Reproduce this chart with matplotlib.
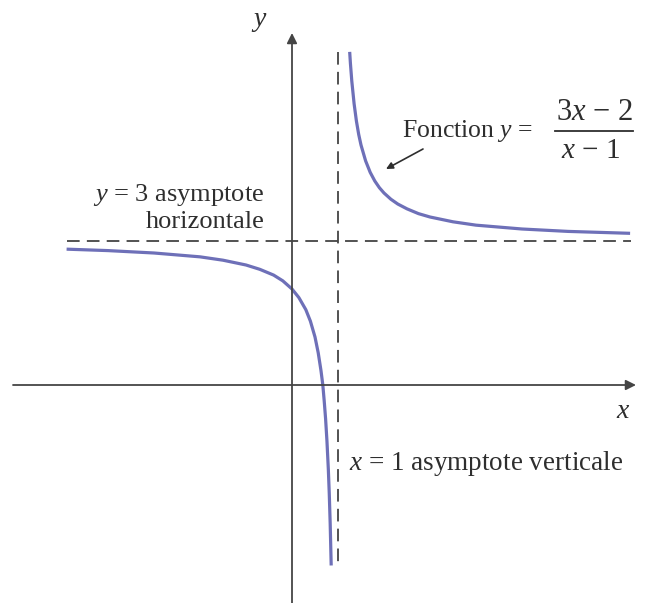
import matplotlib.pyplot as plt
from matplotlib.lines import Line2D

left_x = [-4.9, -4.0, -3.0, -2.0, -1.5, -1.0, -0.7, -0.4, -0.2, 0.0, 0.15,
          0.3, 0.4, 0.5, 0.57, 0.63, 0.67, 0.7, 0.73, 0.76, 0.79, 0.81,
          0.83, 0.852]
left_y = [2.83, 2.80, 2.75, 2.67, 2.60, 2.50, 2.41, 2.29, 2.17, 2.00, 1.82,
          1.57, 1.33, 1.00, 0.67, 0.30, 0.00, -0.33, -0.70, -1.17, -1.76,
          -2.26, -2.88, -3.76]
right_x = [1.254, 1.27, 1.3, 1.35, 1.4, 1.45, 1.5, 1.6, 1.7, 1.8, 1.9, 2.0,
           2.15, 2.3, 2.5, 2.75, 3.0, 3.5, 4.0, 4.5, 5.0, 6.0, 7.35]
right_y = [6.94, 6.70, 6.33, 5.86, 5.50, 5.22, 5.00, 4.67, 4.43, 4.25, 4.11,
           4.00, 3.87, 3.77, 3.67, 3.57, 3.50, 3.40, 3.33, 3.29, 3.25, 3.20,
           3.16]

h_asym = 3
v_asym = 1

# pixel -> data helpers (origin at pixel 292,385)
def px(v):
    return (v - 292) / 46.0

def py(v):
    return (385 - v) / 48.0

plt.rcParams['font.family'] = ['Liberation Serif']
plt.rcParams['mathtext.fontset'] = 'custom'
plt.rcParams['mathtext.rm'] = 'Liberation Serif'
plt.rcParams['mathtext.it'] = 'Liberation Serif:italic'

fig = plt.figure(figsize=(6.47, 6.03), dpi=100)
ax = fig.add_axes([0, 0, 1, 1])
ax.set_xlim(px(0), px(647))
ax.set_ylim(py(603), py(0))
ax.axis('off')

axis_col = '#454545'
curve_col = '#6e70b8'
txt_col = '#2e2e2e'

# axes with arrowheads
ax.annotate('', xy=(px(636), 0), xytext=(px(13), 0),
            arrowprops=dict(arrowstyle='-|>', color=axis_col, lw=1.3,
                            mutation_scale=15, shrinkA=0, shrinkB=0))
ax.annotate('', xy=(0, py(33)), xytext=(0, py(603)),
            arrowprops=dict(arrowstyle='-|>', color=axis_col, lw=1.3,
                            mutation_scale=15, shrinkA=0, shrinkB=0))

# asymptotes
ax.plot([px(67), px(631)], [h_asym, h_asym], color='#444444', lw=1.3,
        dashes=(7, 4))
ax.plot([v_asym, v_asym], [py(52), py(566)], color='#444444', lw=1.3,
        dashes=(7, 4))

# curve
ax.plot(left_x, left_y, color=curve_col, lw=2.3, solid_capstyle='butt')
ax.plot(right_x, right_y, color=curve_col, lw=2.3, solid_capstyle='butt')

# axis labels
ax.text(px(259), py(22), '$y$', fontsize=20, color=txt_col,
        ha='center', va='center')
ax.text(px(623), py(411), '$x$', fontsize=20, color=txt_col,
        ha='center', va='center')

# annotations
ax.text(px(93), py(201), '$y$ = 3 asymptote', fontsize=19, color=txt_col,
        ha='left', va='baseline')
ax.text(px(205), py(228), 'horizontale', fontsize=19, color=txt_col,
        ha='center', va='baseline')
ax.text(px(349), py(463), '$x$ = 1 asymptote verticale', fontsize=19.5,
        color=txt_col, ha='left', va='center')

ax.text(px(402), py(131), 'Fonction $y$ =', fontsize=18.5, color=txt_col,
        ha='left', va='center')
ax.text(px(594), py(112), '3$x$ − 2', fontsize=22, color=txt_col,
        ha='center', va='center')
ax.text(px(591), py(151), '$x$ − 1', fontsize=21, color=txt_col,
        ha='center', va='center')
fig.add_artist(Line2D([555 / 647, 633 / 647], [1 - 131 / 603, 1 - 131 / 603],
                      color=txt_col, lw=1.3))

ax.annotate('', xy=(px(386), py(169)), xytext=(px(423), py(149)),
            arrowprops=dict(arrowstyle='-|>', color=txt_col, lw=1.2,
                            mutation_scale=10, shrinkA=0, shrinkB=0))

fig.savefig('out.png', dpi=100)
